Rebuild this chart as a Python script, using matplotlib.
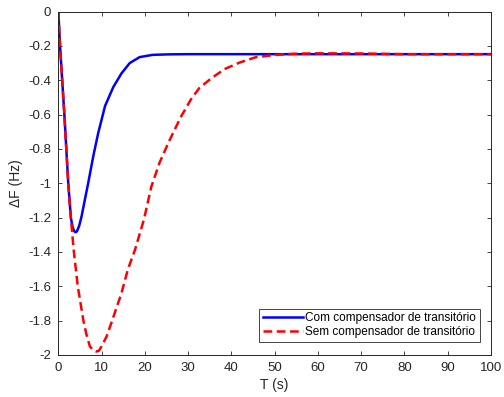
import numpy as np
import matplotlib.pyplot as plt

plt.rcParams['font.family'] = ['Liberation Sans', 'DejaVu Sans']
plt.rcParams['axes.unicode_minus'] = False

# ── dados ───────────────────────────────────────────────────────────────
t_com = [0, 0.4, 1.4, 2.3, 2.9, 3.3, 3.7, 4.0, 4.3, 4.8, 5.4, 6.1, 6.9,
         8.1, 9.2, 10.8, 12.7, 14.6, 16.5, 18.8, 21.8, 25.6, 30, 100]
f_com = [0, -0.2, -0.6, -1.0, -1.2, -1.255, -1.28, -1.285, -1.28, -1.25,
         -1.19, -1.1, -1.0, -0.84, -0.71, -0.55, -0.44, -0.36, -0.30,
         -0.265, -0.252, -0.249, -0.248, -0.248]

t_sem = [0, 0.4, 1.4, 2.3, 2.9, 3.6, 4.5, 5.8, 6.5, 7.3, 8.0, 8.8, 9.4,
         10.0, 11.2, 12.3, 14.6, 16.1, 17.7, 19.8, 21.5, 23.4, 25.7, 28.4,
         30.7, 32.6, 35.3, 38.4, 41.9, 45.7, 49.6, 54.2, 60, 70, 80, 100]
f_sem = [0, -0.2, -0.6, -1.0, -1.2, -1.4, -1.6, -1.8, -1.88, -1.95, -1.97,
         -1.98, -1.975, -1.95, -1.89, -1.81, -1.64, -1.5, -1.39, -1.21,
         -1.02, -0.88, -0.75, -0.61, -0.51, -0.445, -0.39, -0.335, -0.297,
         -0.265, -0.254, -0.246, -0.243, -0.244, -0.248, -0.248]

yticks = [0, -0.2, -0.4, -0.6, -0.8, -1, -1.2, -1.4, -1.6, -1.8, -2]
ylabels = ['0', '-0.2', '-0.4', '-0.6', '-0.8', '-1', '-1.2', '-1.4',
           '-1.6', '-1.8', '-2']
xticks = list(range(0, 101, 10))

# ── figura ──────────────────────────────────────────────────────────────
fig = plt.figure(figsize=(5.04, 3.97), dpi=100)
ax = fig.add_axes([0.1157, 0.1058, 0.974 - 0.1157, 0.9708 - 0.1058])

ax.plot(t_com, f_com, color='#0000FF', lw=1.8,
        label='Com compensador de transitório')
ax.plot(t_sem, f_sem, color='#FF0000', lw=1.8, linestyle=(0, (3.5, 1.8)),
        label='Sem compensador de transitório')

ax.set_xlim(0, 100)
ax.set_ylim(-2, 0)
ax.set_xticks(xticks)
ax.set_yticks(yticks)
ax.set_yticklabels(ylabels)
ax.set_xlabel('T (s)', fontsize=10, color='#262626', labelpad=3)
ax.set_ylabel('ΔF (Hz)', fontsize=10, color='#262626', labelpad=4)

ax.tick_params(direction='in', length=3, width=0.6, top=True, right=True,
               labelsize=9.5, colors='#262626', pad=5)
for s in ax.spines.values():
    s.set_linewidth(0.7)
    s.set_color('#262626')

leg = ax.legend(loc='lower right', fontsize=8.5, handlelength=3.4,
                handletextpad=0.2, borderpad=0.3, labelspacing=0.2,
                borderaxespad=0, fancybox=False, framealpha=1,
                edgecolor='#262626', bbox_to_anchor=(0.9746, 0.038))
leg.get_frame().set_linewidth(0.6)

fig.savefig('out.png', dpi=100)
